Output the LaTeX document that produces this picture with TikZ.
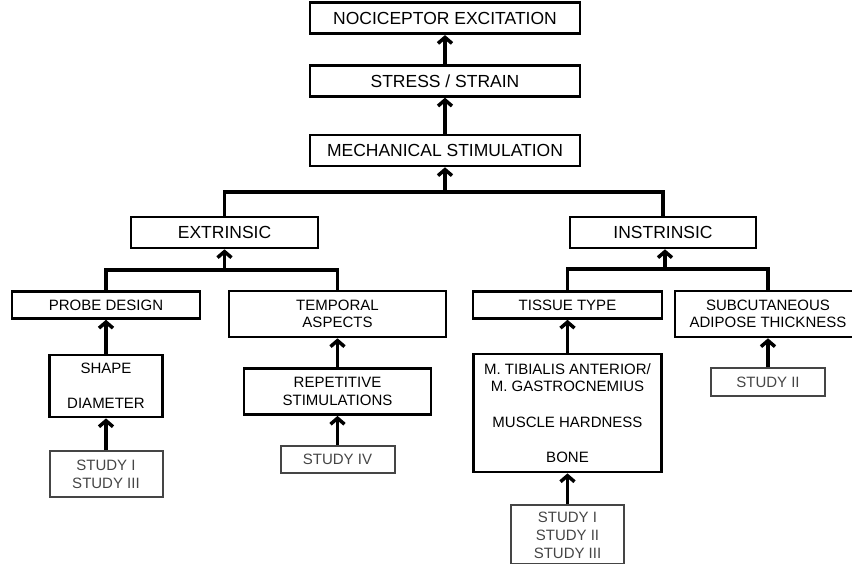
\documentclass[tikz,border=0pt]{standalone}
\usepackage{fontspec}
\setmainfont{Liberation Sans}
\usepackage{xcolor}
\usetikzlibrary{arrows.meta, positioning}

\definecolor{studygray}{gray}{0.27}

\tikzset{
  level/.style={draw, line width=2.6pt, inner sep=0pt, align=center, minimum height=31pt, font=\fontsize{17.5}{20}\selectfont},
  factor/.style={draw, line width=2.6pt, inner sep=0pt, align=center, font=\fontsize{15}{17.5}\selectfont},
  study/.style={draw=studygray, text=studygray, line width=2pt, inner sep=0pt, align=center, minimum width=113pt, font=\fontsize{15}{18}\selectfont},
  link/.style={line width=3.5pt, -{Straight Barb[length=6pt,width=14pt]}},
  bus/.style={line width=3.5pt, line join=miter}
}

\begin{document}
\begin{tikzpicture}[x=1pt, y=-1pt]
\useasboundingbox (0,0) rectangle (852,564);

% top column
\node[level, minimum width=270pt] (mech) at (445,150.5) {MECHANICAL STIMULATION};
\node[level, minimum width=270pt, above=36pt of mech] (stress) {STRESS / STRAIN};
\node[level, minimum width=270pt, above=29pt of stress] (noci) {NOCICEPTOR EXCITATION};

\node[level, minimum width=187pt] (extr) at (224.5,232.5) {EXTRINSIC};
\node[level, minimum width=186pt] (intr) at (663,232.5) {INSTRINSIC};

% extrinsic side
\node[factor, minimum width=188pt, minimum height=27pt] (probe) at (106,305) {PROBE DESIGN};
\node[factor, minimum width=217pt, minimum height=46pt] (temporal) at (337.5,314) {TEMPORAL\\ASPECTS};
\node[factor, minimum width=113pt, minimum height=62pt, below=34pt of probe] (shape) {SHAPE\\[17.5pt]DIAMETER};
\node[factor, minimum width=187pt, minimum height=46pt, below=29pt of temporal] (repet) {REPETITIVE\\STIMULATIONS};
\node[study, minimum height=46pt, below=32pt of shape] (studyA) {STUDY I\\STUDY III};
\node[study, minimum width=114pt, minimum height=27pt, below=29pt of repet] (studyB) {STUDY IV};

% intrinsic side
\node[factor, minimum width=189pt, minimum height=27pt] (tissue) at (567.5,305) {TISSUE TYPE};
\node[factor, minimum width=186pt, minimum height=46pt] (subcut) at (768,314) {SUBCUTANEOUS\\ADIPOSE THICKNESS};
\node[factor, minimum width=188pt, minimum height=118pt, below=33pt of tissue] (tibialis) {M. TIBIALIS ANTERIOR/\\M. GASTROCNEMIUS\\[18pt]MUSCLE HARDNESS\\[18pt]BONE};
\node[study, minimum height=59pt, below=31pt of tibialis] (studyC) {STUDY I\\STUDY II\\STUDY III};
\node[study, minimum width=114pt, minimum height=28pt, below=29pt of subcut] (studyD) {STUDY II};

\coordinate (mechjoin) at (445,192);
\coordinate (extjoin) at (224.5,270);
\coordinate (intjoin) at (665,269);

\draw[link] (stress) -- (noci);
\draw[link] (mech) -- (stress);

\draw[bus] (extr.north) |- (mechjoin) -| (intr.north);
\draw[link] (mechjoin) -- (mech.south);

\draw[bus] (probe.north) |- (extjoin) -| (temporal.north);
\draw[link] (extjoin) -- (extr.south);
\draw[bus] (tissue.north) |- (intjoin) -| (subcut.north);
\draw[link] (intjoin) -- (intr.south -| intjoin);

\draw[link] (shape) -- (probe);
\draw[link] (studyA) -- (shape);
\draw[link] (repet) -- (temporal);
\draw[link] (studyB) -- (repet);
\draw[link] (tibialis.north -| tissue) -- (tissue);
\draw[link] (studyC) -- (tibialis);
\draw[link] (studyD) -- (subcut);
\end{tikzpicture}
\end{document}
